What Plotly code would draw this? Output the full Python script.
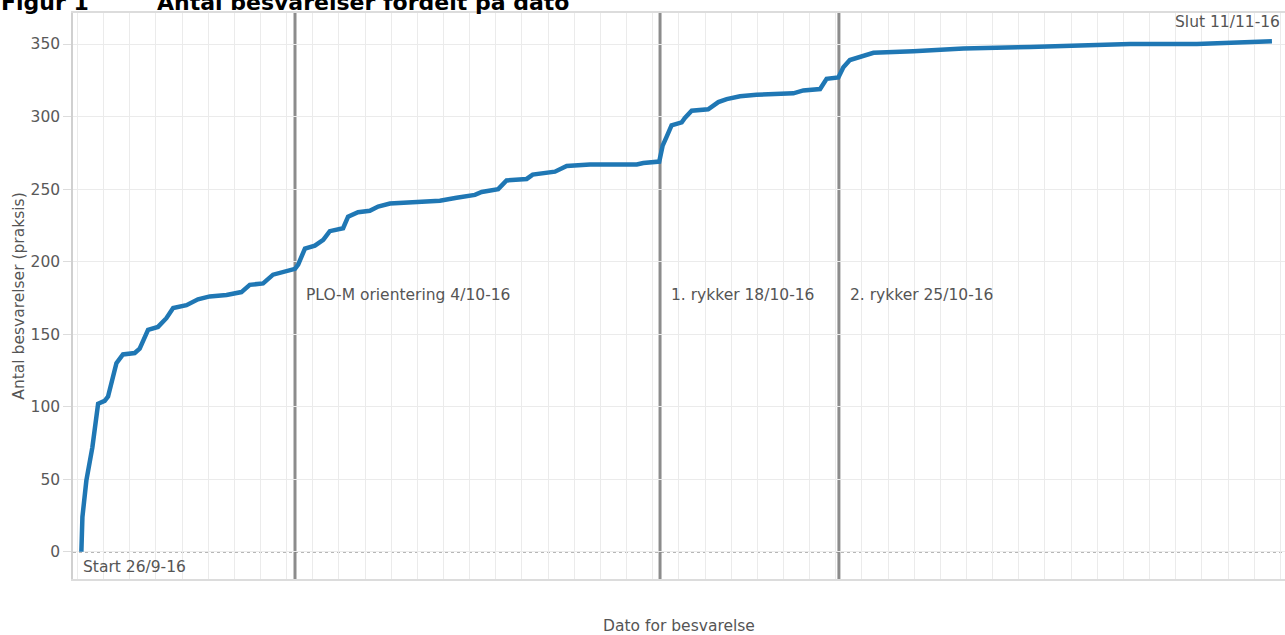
import plotly.graph_objects as go

# ---- data ----
dates = [
    "2016-09-26 03:36", "2016-09-26 04:34", "2016-09-26 08:10", "2016-09-26 13:41",
    "2016-09-26 18:58", "2016-09-27 00:58", "2016-09-27 04:05", "2016-09-27 08:38",
    "2016-09-27 11:46", "2016-09-27 17:46", "2016-09-28 04:34", "2016-09-28 09:07",
    "2016-09-28 12:14", "2016-09-28 16:48", "2016-09-29 01:55", "2016-09-29 09:36",
    "2016-09-29 15:50", "2016-09-30 04:05", "2016-09-30 14:38", "2016-10-01 01:26",
    "2016-10-01 16:48", "2016-10-02 06:29", "2016-10-02 14:10", "2016-10-03 02:24",
    "2016-10-03 11:31", "2016-10-03 20:53", "2016-10-04 05:17", "2016-10-04 07:41",
    "2016-10-04 10:34", "2016-10-04 16:48", "2016-10-05 01:55", "2016-10-05 09:36",
    "2016-10-05 15:36", "2016-10-06 03:50", "2016-10-06 08:24", "2016-10-06 17:31",
    "2016-10-07 04:19", "2016-10-07 12:00", "2016-10-07 22:48", "2016-10-08 23:17",
    "2016-10-09 20:38", "2016-10-10 12:00", "2016-10-11 04:48", "2016-10-11 11:02",
    "2016-10-12 02:10", "2016-10-12 09:50", "2016-10-13 04:19", "2016-10-13 09:50",
    "2016-10-14 06:14", "2016-10-14 17:02", "2016-10-15 14:24", "2016-10-17 09:22",
    "2016-10-17 15:22", "2016-10-18 06:00", "2016-10-18 09:07", "2016-10-18 12:43",
    "2016-10-18 17:17", "2016-10-19 02:38", "2016-10-19 05:31", "2016-10-19 11:46",
    "2016-10-20 02:53", "2016-10-20 12:14", "2016-10-20 19:55", "2016-10-21 08:10",
    "2016-10-21 23:17", "2016-10-23 09:07", "2016-10-23 18:14", "2016-10-24 09:36",
    "2016-10-24 15:36", "2016-10-25 02:24", "2016-10-25 06:58", "2016-10-25 12:58",
    "2016-10-25 21:36", "2016-10-26 10:34", "2016-10-27 23:17", "2016-10-29 21:07",
    "2016-11-01 10:19", "2016-11-03 02:10", "2016-11-05 06:14", "2016-11-07 19:26",
    "2016-11-09 17:17", "2016-11-10 16:19",
]
counts = [
    0, 24, 49, 72,
    102, 104, 107, 120,
    130, 136, 137, 140,
    145, 153, 155, 161,
    168, 170, 174, 176,
    177, 179, 184, 185,
    191, 193, 194, 195,
    198, 209, 211, 215,
    221, 223, 231, 234,
    235, 238, 240, 241,
    242, 244, 246, 248,
    250, 256, 257, 260,
    262, 266, 267, 267,
    268, 269, 280, 286,
    294, 296, 299, 304,
    305, 310, 312, 314,
    315, 316, 318, 319,
    326, 327, 334, 339,
    341, 344, 345, 347,
    348, 349, 350, 350,
    351, 352,
]

event_dates = ["2016-10-04 07:41", "2016-10-18 06:43", "2016-10-25 02:53"]
event_labels = ["PLO-M orientering 4/10-16", "1. rykker 18/10-16", "2. rykker 25/10-16"]
start_label = "Start 26/9-16"
end_date = "2016-11-11"
end_label = "Slut 11/11-16"

title_num = "Figur 1"
title_text = "Antal besvarelser fordelt på dato"
x_title = "Dato for besvarelse"
y_title = "Antal besvarelser (praksis)"
y_ticks = [0, 50, 100, 150, 200, 250, 300, 350]

# ---- styling ----
FONT = "DejaVu Sans"
TXT = "#555555"
GRID = "#ebebeb"

fig = go.Figure()
fig.add_trace(go.Scatter(
    x=dates, y=counts, mode="lines",
    line=dict(color="#1f77b4", width=4.5, shape="linear"),
    showlegend=False,
))

shapes = []
for d in event_dates:
    shapes.append(dict(type="line", xref="x", yref="paper", x0=d, x1=d, y0=0, y1=1,
                       line=dict(color="#8c8c8c", width=3), layer="between"))
shapes.append(dict(type="line", xref="paper", yref="y", x0=0, x1=1, y0=0, y1=0,
                   line=dict(color="#707070", width=1.5, dash="dot"), layer="between"))

annotations = []
for d, lab in zip(event_dates, event_labels):
    annotations.append(dict(x=d, y=176.9, xref="x", yref="y", text=lab, showarrow=False,
                            xanchor="left", yanchor="middle", xshift=9,
                            font=dict(family=FONT, size=15.5, color=TXT)))
annotations.append(dict(x=dates[0], y=-10.5, xref="x", yref="y", text=start_label,
                        showarrow=False, xanchor="left", yanchor="middle", xshift=0,
                        font=dict(family=FONT, size=15.5, color=TXT)))
annotations.append(dict(x=end_date, y=365.2, xref="x", yref="y", text=end_label,
                        showarrow=False, xanchor="right", yanchor="middle", xshift=2,
                        font=dict(family=FONT, size=15.5, color=TXT)))
# figure caption (cut by the top edge as in the reference)
annotations.append(dict(x=-73 / 1212, y=1 + 11 / 566, xref="paper", yref="paper",
                        text="<b>" + title_num + "</b>", showarrow=False,
                        xanchor="left", yanchor="middle", xshift=-1,
                        font=dict(family=FONT, size=22, color="#000000")))
annotations.append(dict(x=(155 - 73) / 1212, y=1 + 11 / 566, xref="paper", yref="paper",
                        text="<b>" + title_text + "</b>", showarrow=False,
                        xanchor="left", yanchor="middle",
                        font=dict(family=FONT, size=22, color="#000000")))

fig.update_layout(
    width=1285, height=635,
    margin=dict(l=73, r=0, t=13, b=56, pad=0),
    paper_bgcolor="white", plot_bgcolor="white",
    font=dict(family=FONT, size=15.5, color=TXT),
    shapes=shapes, annotations=annotations,
    xaxis=dict(
        type="date",
        range=["2016-09-25 19:55", "2016-11-11 04:19"],
        tick0="2016-09-26", dtick=86400000,
        showgrid=True, gridcolor=GRID, gridwidth=1,
        showticklabels=False, ticks="",
        showline=True, linecolor="#dcdcdc", linewidth=1.5, mirror=True,
        zeroline=False, automargin=False,
        title=dict(text=x_title, standoff=44, font=dict(family=FONT, size=15.5, color=TXT)),
    ),
    yaxis=dict(
        range=[-18.8, 371.4],
        tickvals=y_ticks,
        showgrid=True, gridcolor=GRID, gridwidth=1,
        ticks="outside", ticklen=8, tickcolor="#dcdcdc", tickwidth=1,
        tickfont=dict(family=FONT, size=15.5, color="#595959"),
        showline=True, linecolor="#d0d0d0", linewidth=1.5, mirror=True,
        zeroline=False, automargin=False,
        title=dict(text=y_title, standoff=2, font=dict(family=FONT, size=15.5, color=TXT)),
    ),
)

fig.write_html(
    "out.html",
    config={"displayModeBar": False},
    post_script="document.body.style.margin='0px';document.body.style.overflow='hidden';",
)
